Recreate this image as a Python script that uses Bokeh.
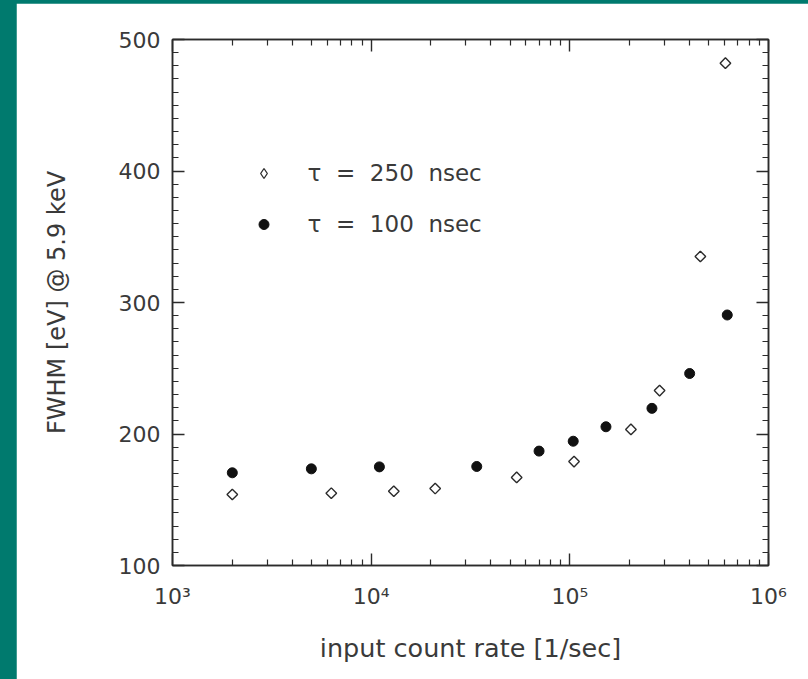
import math
from bokeh.plotting import figure
from bokeh.models import (Range1d, FixedTicker, LogAxis, LinearAxis, Legend, LegendItem,
                          CustomJSTickFormatter, ColumnDataSource)
from bokeh.layouts import column
from bokeh.embed import file_html
from bokeh.resources import INLINE

# ---- data ----
rate_250 = [2000, 6300, 13000, 21000, 54000, 105000, 203000, 283000, 454000, 607000]
fwhm_250 = [154, 155, 156.5, 158.5, 167, 179, 203.5, 233, 335, 482]

rate_100 = [2000, 5000, 11000, 34000, 70000, 104000, 152000, 259000, 401000, 620000]
fwhm_100 = [170.5, 173.5, 175, 175.3, 187, 194.5, 205.5, 219.5, 246, 290.5]

series_labels = ["\u03c4\u00a0\u00a0=\u00a0\u00a0250\u00a0\u00a0nsec",
                 "\u03c4\u00a0\u00a0=\u00a0\u00a0100\u00a0\u00a0nsec"]

x_ticks = [1000, 10000, 100000, 1000000]
x_tick_labels = ["10\u00b3", "10\u2074", "10\u2075", "10\u2076"]
y_ticks = [100, 200, 300, 400, 500]
y_tick_labels = ["100", "200", "300", "400", "500"]

x_title = "input count rate [1/sec]"
y_title = "FWHM [eV] @ 5.9 keV"

TEAL = "#007a6e"
INK = "#2b2b2b"
TXT = "#3a3a3a"
FONT = "DejaVu Sans"

x_minor = [m * d for d in x_ticks[:-1] for m in range(2, 10)]
y_minor = list(range(y_ticks[0], y_ticks[-1] + 1, 10))

p = figure(width=792, height=676, x_axis_type="log",
           x_range=Range1d(x_ticks[0], x_ticks[-1]),
           y_range=Range1d(y_ticks[0], y_ticks[-1]),
           output_backend="svg", toolbar_location=None,
           min_border_left=156, min_border_right=40,
           min_border_top=36, min_border_bottom=114,
           background_fill_color="white", border_fill_color="white",
           outline_line_color=INK, outline_line_width=1.5)
p.margin = (3, 0, 0, 16)
p.grid.visible = False

xt = FixedTicker(ticks=x_ticks, minor_ticks=x_minor)
yt = FixedTicker(ticks=y_ticks, minor_ticks=y_minor)


def style(ax, major_len, minor_len):
    ax.axis_line_color = INK
    ax.axis_line_width = 1.5
    ax.major_tick_in = major_len
    ax.major_tick_out = 0
    ax.minor_tick_in = minor_len
    ax.minor_tick_out = 0
    ax.major_tick_line_color = INK
    ax.minor_tick_line_color = INK
    ax.major_tick_line_width = 1.4
    ax.minor_tick_line_width = 1.2
    ax.major_label_text_font = FONT
    ax.major_label_text_font_size = "22px"
    ax.major_label_text_color = TXT
    ax.axis_label_text_font = FONT
    ax.axis_label_text_font_size = "24px"
    ax.axis_label_text_font_style = "normal"
    ax.axis_label_text_color = TXT


xa = p.xaxis[0]
xa.ticker = xt
style(xa, 12, 6)
xa.major_label_overrides = dict(zip(x_ticks, x_tick_labels))
xa.major_label_standoff = 18
xa.axis_label = x_title
xa.axis_label_text_font_size = "25.5px"
xa.axis_label_standoff = 21

ya = p.yaxis[0]
ya.ticker = yt
style(ya, 12, 6)
ya.major_label_overrides = dict(zip(y_ticks, y_tick_labels))
ya.major_label_standoff = 12
ya.axis_label = y_title
ya.axis_label_standoff = 45

blank = CustomJSTickFormatter(code="return ''")

top = LogAxis(ticker=xt, formatter=blank)
style(top, 12, 6)
top.major_label_standoff = 0
p.add_layout(top, "above")

right = LinearAxis(ticker=yt, formatter=blank)
style(right, 12, 6)
right.major_label_standoff = 0
p.add_layout(right, "right")

src250 = ColumnDataSource(dict(x=rate_250, y=fwhm_250))
src100 = ColumnDataSource(dict(x=rate_100, y=fwhm_100))

# legend swatch for the open diamonds: a Bokeh "diamond" drawn underneath the
# rotated squares (legend swatches are never rotated), fully covered by them
r250_key = p.scatter("x", "y", source=src250, marker="diamond", size=9.5,
                     fill_color="white", line_color=INK, line_width=1.3)
# open diamonds (rotated squares) and filled dots
r250 = p.scatter("x", "y", source=src250, marker="square", angle=math.pi / 4, size=7.5,
                 fill_color="white", line_color=INK, line_width=1.4)
r100 = p.scatter("x", "y", source=src100, marker="circle", size=10,
                 fill_color="#111111", line_color="#111111")

legend = Legend(items=[LegendItem(label=series_labels[0], renderers=[r250_key]),
                       LegendItem(label=series_labels[1], renderers=[r100])],
                location=(78.5, 328), orientation="vertical",
                glyph_width=25, glyph_height=26, label_height=26,
                label_standoff=32, spacing=25, padding=0, margin=0,
                border_line_alpha=0, background_fill_alpha=0,
                label_text_font=FONT, label_text_font_size="23px",
                label_text_color=TXT)
p.add_layout(legend)

page = column(p, width=808, height=679, styles={"background-color": TEAL})

open("out.html", "w").write(file_html(page, INLINE))
